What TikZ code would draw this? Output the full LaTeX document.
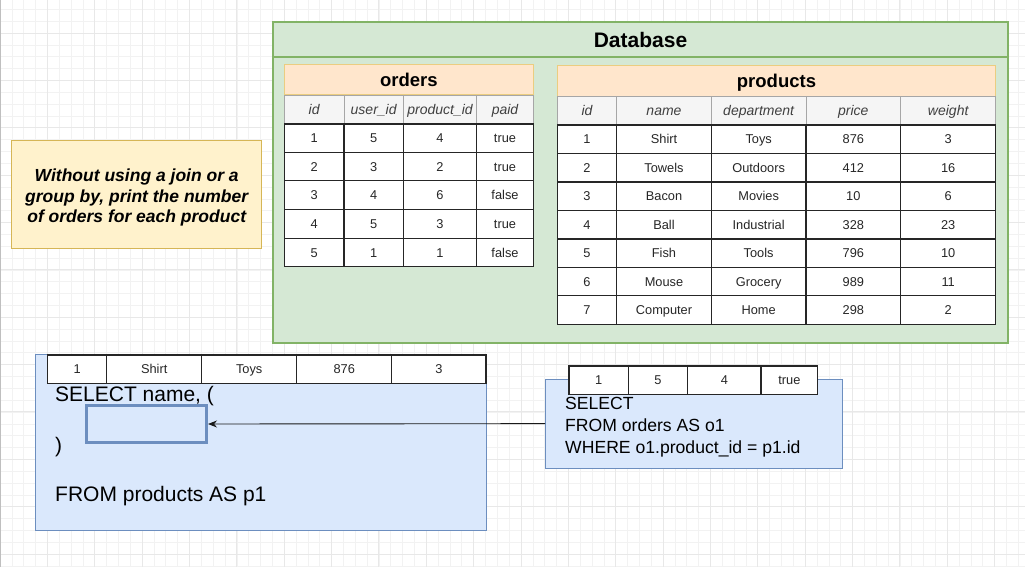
\documentclass[tikz,border=0pt]{standalone}
\usepackage{fontspec}
\setmainfont{Liberation Sans}
\usetikzlibrary{arrows.meta}
\definecolor{dbfill}{HTML}{D5E8D4}
\definecolor{dbdraw}{HTML}{82B366}
\definecolor{orfill}{HTML}{FFE6CC}
\definecolor{ordraw}{HTML}{D79B00}
\definecolor{hdfill}{HTML}{F5F5F5}
\definecolor{notefill}{HTML}{FFF2CC}
\definecolor{notedraw}{HTML}{D6B656}
\definecolor{blfill}{HTML}{DAE8FC}
\definecolor{bldraw}{HTML}{6C8EBF}
\newcommand\trow[6]{%
  \foreach \v [count=\c] in {#6} {%
    \pgfmathsetmacro\xa{#2[\c-1]}%
    \pgfmathsetmacro\xb{#2[\c]}%
    \node[#5, minimum width={\xb-\xa}, minimum height={#4-#3}] (#1-\c) at ({(\xa+\xb)/2},{(#3+#4)/2}) {\v};
  }}
\def\ox{{284.3,344,403.3,476.7,533.3}}
\def\px{{557.3,616.7,711.3,806,900.7,995.7}}
\def\lx{{47.7,106.7,201.7,296.7,391.7,486}}
\def\rx{{569,628.3,687.7,761,817.7}}
\tikzset{
  capc/.style={text height=#1, text depth=0pt},
  gridminor/.style={draw=black!5, line width=0.6pt},
  gridmajor/.style={draw=black!9, line width=0.8pt},
  cellb/.style={draw=black!85, line width=1.3pt, fill=white, inner sep=0pt, text=black!85, font=\fontsize{12.8}{14}\selectfont, capc=9.2pt},
  hcell/.style={draw=black!35, line width=0.8pt, fill=hdfill, inner sep=0pt, text=black!75, font=\itshape\fontsize{14}{16}\selectfont, capc=10pt},
  tbltitle/.style={draw=ordraw!50, line width=1pt, fill=orfill, inner sep=0pt, font=\bfseries\fontsize{18.5}{20}\selectfont, capc=13.3pt},
  dbbox/.style={draw=dbdraw, line width=1.3pt, fill=dbfill, inner sep=0pt},
  notebox/.style={draw=notedraw, line width=1pt, fill=notefill, inner sep=0pt},
  notetext/.style={inner sep=0pt, align=center, font=\bfseries\itshape\fontsize{17.5}{20.5}\selectfont},
  bluebox/.style={draw=bldraw, line width=1pt, fill=blfill, inner sep=0pt},
  sqlbig/.style={inner sep=0pt, anchor=west, font=\fontsize{21}{24}\selectfont, capc=15pt},
  sqlmid/.style={inner sep=0pt, anchor=west, font=\fontsize{17.6}{20}\selectfont, capc=12.6pt},
  rowcell/.style={draw=black!85, line width=1.2pt, fill=white, inner sep=0pt, text=black!85, font=\fontsize{12.8}{14}\selectfont, capc=9.2pt},
}
\begin{document}
\begin{tikzpicture}[x=1pt,y=-1pt]
\useasboundingbox (0,0) rectangle (1025,567);
\fill[white] (0,0) rectangle (1025,567);
% canvas grid
\foreach \i in {0,...,86} {\draw[gridminor] ({\i*11.84},0) -- ({\i*11.84},567);}
\foreach \j in {0,...,47} {\draw[gridminor] (0,{9.4+\j*11.84}) -- (1025,{9.4+\j*11.84});}
\foreach \i in {0,...,21} {\draw[gridmajor] ({\i*47.36},0) -- ({\i*47.36},567);}
\foreach \j in {0,...,11} {\draw[gridmajor] (0,{33+\j*47.36}) -- (1025,{33+\j*47.36});}
\draw[black!25, line width=1pt] (0.5,0) -- (0.5,567);

% Database container
\node[dbbox, minimum width=735, minimum height=321] (db) at (640.5,182.5) {};
\draw[dbdraw, line width=1.3pt] (db.west |- 0,57) -- (db.east |- 0,57);
\node[font=\bfseries\fontsize{21}{24}\selectfont, capc=15pt] (dbtitle) at (640.5,40.5) {Database};

% orders table
\node[tbltitle, minimum width=249, minimum height=30.7] (ortitle) at (408.8,79.65) {orders};
\trow{oh}{\ox}{95}{124}{hcell}{id,user\_id,product\_id,paid}
\trow{or1}{\ox}{124}{152.3}{cellb}{1,5,4,true}
\trow{or2}{\ox}{152.3}{180.7}{cellb}{2,3,2,true}
\trow{or3}{\ox}{180.7}{209.3}{cellb}{3,4,6,false}
\trow{or4}{\ox}{209.3}{238.3}{cellb}{4,5,3,true}
\trow{or5}{\ox}{238.3}{266.7}{cellb}{5,1,1,false}

% products table
\node[tbltitle, minimum width=438.4, minimum height=30.6] (prtitle) at (776.5,81) {products};
\trow{ph}{\px}{96.3}{125}{hcell}{id,name,department,price,weight}
\trow{pr1}{\px}{125}{153.7}{cellb}{1,Shirt,Toys,876,3}
\trow{pr2}{\px}{153.7}{182}{cellb}{2,Towels,Outdoors,412,16}
\trow{pr3}{\px}{182}{210.7}{cellb}{3,Bacon,Movies,10,6}
\trow{pr4}{\px}{210.7}{239}{cellb}{4,Ball,Industrial,328,23}
\trow{pr5}{\px}{239}{267.3}{cellb}{5,Fish,Tools,796,10}
\trow{pr6}{\px}{267.3}{295.7}{cellb}{6,Mouse,Grocery,989,11}
\trow{pr7}{\px}{295.7}{324.3}{cellb}{7,Computer,Home,298,2}

% task note
\node[notebox, minimum width=250, minimum height=107.6] (note) at (136.7,194.5) {};
\node[notetext] (notetxt) at (136.7,197.5)
  {Without using a join or a\\group by, print the number\\of orders for each product};

% outer query box
\node[bluebox, minimum width=451, minimum height=176.4] (lbox) at (261.2,442.5) {};
\trow{lr}{\lx}{355}{383.3}{rowcell}{1,Shirt,Toys,876,3}
\node[sqlbig] (l1) at (55,394) {SELECT name, (};
\node[sqlbig] (l2) at (55,444.5) {)};
\node[sqlbig] (l3) at (55,494) {FROM products AS p1};
\node[draw=bldraw, line width=2.6pt, fill=blfill, minimum width=120, minimum height=36.6, inner sep=0pt] (ibox) at (146.7,424) {};

% subquery box
\node[bluebox, minimum width=297, minimum height=89.3] (rbox) at (694.2,423.65) {};
\trow{rr}{\rx}{366}{394.3}{rowcell}{1,5,4,true}
\node[sqlmid] (r1) at (565,403.3) {SELECT};
\node[sqlmid] (r2) at (565,425) {FROM orders AS o1};
\node[sqlmid] (r3) at (565,446.7) {WHERE o1.product\_id = p1.id};

% arrow
\draw[-{Stealth[length=9pt,width=7pt]}, line width=0.9pt, black!90] (rbox.west) -- (ibox.east);
\end{tikzpicture}
\end{document}
